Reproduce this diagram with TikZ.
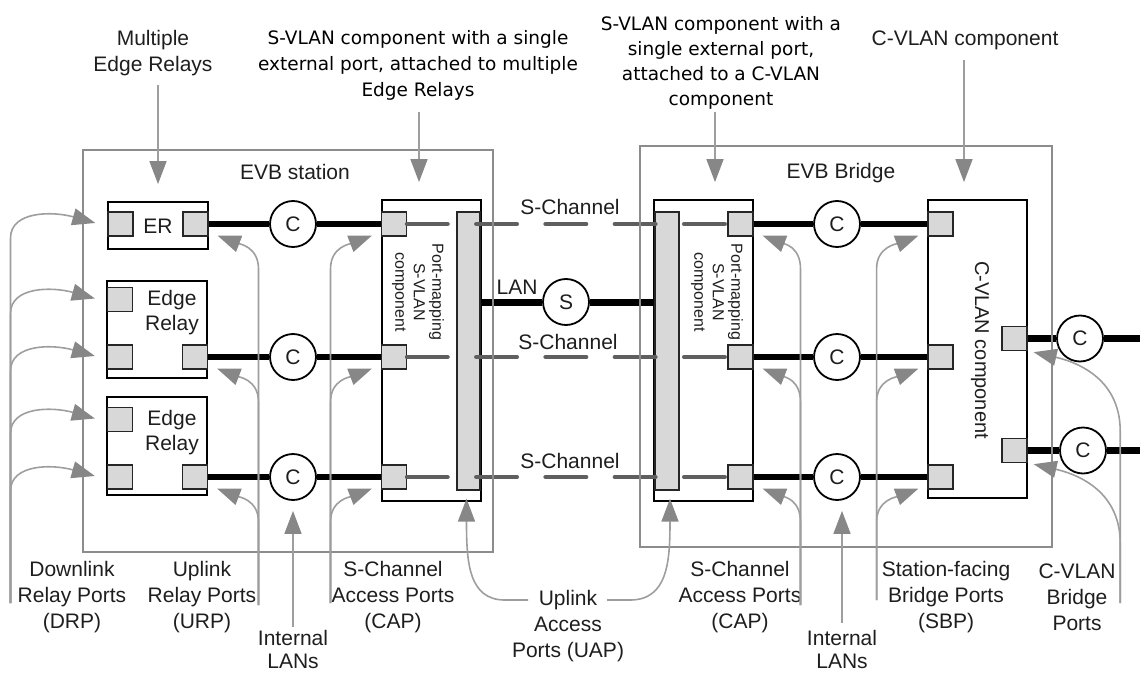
\documentclass[tikz,border=0pt]{standalone}
\usepackage{fontspec}
\setmainfont{Liberation Sans}
\newfontfamily\tahfont{DejaVu Sans}
\usetikzlibrary{arrows.meta,calc}
\definecolor{boxgray}{HTML}{8C8C8C}
\definecolor{anngray}{HTML}{9E9E9E}
\definecolor{headgray}{HTML}{878787}
\definecolor{portgray}{HTML}{D8D8D8}
\definecolor{chgray}{HTML}{5F5F5F}
\definecolor{txtc}{HTML}{1E1E1E}
\tikzset{
 lbl/.style={font=\fontsize{21}{26}\selectfont, align=center, inner sep=0pt, text=txtc},
 blbl/.style={font=\tahfont\fontsize{18.5}{26}\selectfont, align=center, inner sep=0pt, text=black},
 obox/.style={draw=boxgray, line width=1.5pt, rectangle, inner sep=0pt},
 ibox/.style={draw=black, line width=1.8pt, fill=white, rectangle, inner sep=0pt},
 port/.style={draw=black!85, line width=1.3pt, fill=portgray, rectangle, minimum width=25pt, minimum height=24pt, inner sep=0pt},
 vbar/.style={draw=black!85, line width=1.3pt, fill=portgray, rectangle, inner sep=0pt, minimum width=23pt, minimum height=278pt},
 cnode/.style={circle, draw=black, line width=1.8pt, fill=white, minimum size=46pt, inner sep=0pt, font=\fontsize{21}{26}\selectfont, text=txtc},
 link/.style={line width=6.5pt, draw=black},
 chan/.style={line width=4.5pt, draw=chgray, line cap=round, dash pattern=on 40.5pt off 28.8pt},
 ann/.style={draw=anngray, line width=1.6pt, -{Triangle[length=23pt,width=17pt,color=headgray]}},
}
% arrow to a port's lower right corner, coming up from a vertical line on the right
\newcommand\annL[2]{\draw[ann] (#1) -- ($(#1 |- #2.south)+(0,32)$) .. controls ($(#1 |- #2.south)+(0,10)$) and ($(#2.south east)+(30,7)$) .. ($(#2.south east)+(9,-1)$);}
% arrow to a port's lower left corner, coming up from a vertical line on the left
\newcommand\annR[2]{\draw[ann] (#1) -- ($(#1 |- #2.south)+(0,32)$) .. controls ($(#1 |- #2.south)+(0,10)$) and ($(#2.south west)+(-30,7)$) .. ($(#2.south west)+(-9,-1)$);}
% downlink relay port arrows
\newcommand\drparr[1]{\draw[ann] (drpS) -- ($(drpS |- #1)+(0,14)$) .. controls ($(drpS |- #1)+(0,-13)$) and ($(#1.west)+(-55,-13)$) .. ($(#1.west)+(-12,-1)$);}
% C-VLAN bridge port arrows
\newcommand\annC[2]{\draw[ann] (#1) -- ($(#1 |- #2.south)+(0,80)$) .. controls ($(#1 |- #2.south)+(0,25)$) and ($(#2.south east)+(45,10)$) .. ($(#2.south east)+(6,1)$);}
\begin{document}
\begin{tikzpicture}[x=1pt,y=-1pt]
\useasboundingbox (0,0) rectangle (1140,674);

% inner boxes
\node[ibox, minimum width=100pt, minimum height=47pt] (er1) at (158,225.5) {};
\node[ibox, minimum width=100pt, minimum height=97pt] (er2) at (157,329.5) {};
\node[ibox, minimum width=100pt, minimum height=98pt] (er3) at (157,446) {};
\node[ibox, minimum width=99pt, minimum height=301pt] (pml) at (431.5,350.5) {};
\node[ibox, minimum width=99pt, minimum height=301pt] (pmr) at (703.5,350.5) {};
\node[ibox, minimum width=99pt, minimum height=298pt] (cvc) at (977.5,349) {};

% bars
\node[vbar] (barl) at (468.5,351) {};
\node[vbar, minimum width=24pt] (barr) at (667,351) {};

% ports
\node[port] (e1l) at (120.5,224) {};
\node[port] (e1r) at (195.5,224) {};
\node[port] (e2t) at (120,299.5) {};
\node[port] (e2l) at (120,357) {};
\node[port] (e2r) at (195,357) {};
\node[port] (e3t) at (120,419.5) {};
\node[port] (e3l) at (120,477) {};
\node[port] (e3r) at (195,477) {};
\node[port] (pl1) at (394,224) {};
\node[port] (pl2) at (394,357) {};
\node[port] (pl3) at (394,477) {};
\node[port] (pr1) at (740.5,224) {};
\node[port] (pr2) at (740.5,357) {};
\node[port] (pr3) at (740.5,477) {};
\node[port] (cvp1) at (940.5,224) {};
\node[port] (cvp2) at (940.5,357) {};
\node[port] (cvp3) at (940.5,477) {};
\node[port] (cvq1) at (1014.5,338.5) {};
\node[port] (cvq2) at (1014.5,450.5) {};

% texts inside boxes
\node[lbl] (erlab) at (158,226) {ER};
\node[lbl, font=\fontsize{21}{25}\selectfont] (e2lab) at (172,313) {Edge\\Relay};
\node[lbl, font=\fontsize{21}{25}\selectfont] (e3lab) at (172,433) {Edge\\Relay};
\node[lbl, font=\fontsize{16}{18.5}\selectfont, rotate=-90] (pmlt) at (418,292) {Port-mapping\\S-VLAN\\component};
\node[lbl, font=\fontsize{16}{18.5}\selectfont, rotate=-90] (pmrt) at (717,292) {Port-mapping\\S-VLAN\\component};
\node[lbl, font=\fontsize{20}{24}\selectfont, rotate=-90] (cvt) at (980,350) {C-VLAN component};

% circles
\node[cnode] (cl1) at (293,224) {C};
\node[cnode] (cl2) at (293,357) {C};
\node[cnode] (cl3) at (293,477) {C};
\node[cnode] (cr1) at (837,224) {C};
\node[cnode] (cr2) at (837,357) {C};
\node[cnode] (cr3) at (837,477) {C};
\node[cnode] (cf1) at (1080,338.5) {C};
\node[cnode] (cf2) at (1083,450.5) {C};
\node[cnode] (cs) at (566,302) {S};
\coordinate (fe1) at (1140,338.5);
\coordinate (fe2) at (1140,450.5);

% thick links
\draw[link] (e1r.east) -- (cl1) -- (pl1.west);
\draw[link] (e2r.east) -- (cl2) -- (pl2.west);
\draw[link] (e3r.east) -- (cl3) -- (pl3.west);
\draw[link] (pr1.east) -- (cr1) -- (cvp1.west);
\draw[link] (pr2.east) -- (cr2) -- (cvp2.west);
\draw[link] (pr3.east) -- (cr3) -- (cvp3.west);
\draw[link] (cvq1.east) -- (cf1) -- (fe1);
\draw[link] (cvq2.east) -- (cf2) -- (fe2);
\draw[link, line width=7pt] (barl.east |- cs) -- (cs) -- (barr.west |- cs);

% S-channels
\draw[chan] ([xshift=13pt]pl1.center) -- ([xshift=-13pt]pr1.center);
\draw[chan] ([xshift=13pt]pl2.center) -- ([xshift=-13pt]pr2.center);
\draw[chan] ([xshift=13pt]pl3.center) -- ([xshift=-13pt]pr3.center);

% outer boxes
\node[obox, minimum width=410pt, minimum height=402pt] (stn) at (288,351) {};
\node[obox, minimum width=412pt, minimum height=401pt] (brg) at (846,346.5) {};

% labels
\node[lbl] (evbs) at (295,172) {EVB station};
\node[lbl] (evbb) at (841,173) {EVB Bridge};
\node[lbl] (lan) at (517,287) {LAN};
\node[lbl] (sc1) at (570,207) {S-Channel};
\node[lbl] (sc2) at (568,342) {S-Channel};
\node[lbl] (sc3) at (570,461) {S-Channel};
\node[lbl] (mer) at (153,53) {Multiple\\Edge Relays};
\node[blbl] (svl) at (418,65) {S-VLAN component with a single\\external port, attached to multiple\\Edge Relays};
\node[blbl, font=\tahfont\fontsize{18.5}{25}\selectfont] (svr) at (721,62.5) {S-VLAN component with a\\single external port,\\attached to a C-VLAN\\component};
\node[lbl] (cvl) at (965,40) {C-VLAN component};
\node[lbl] (drp) at (72,597) {Downlink\\Relay Ports\\(DRP)};
\node[lbl] (urp) at (202,597) {Uplink\\Relay Ports\\(URP)};
\node[lbl, font=\fontsize{21}{23}\selectfont] (ila) at (293,649) {Internal\\LANs};
\node[lbl] (capl) at (393,597) {S-Channel\\Access Ports\\(CAP)};
\node[lbl] (uap) at (568,626) {Uplink\\Access\\Ports (UAP)};
\node[lbl] (capr) at (740,597) {S-Channel\\Access Ports\\(CAP)};
\node[lbl, font=\fontsize{21}{23}\selectfont] (ilb) at (842,649) {Internal\\LANs};
\node[lbl] (sbp) at (946,597) {Station-facing\\Bridge Ports\\(SBP)};
\node[lbl] (cvbp) at (1077,597) {C-VLAN\\Bridge\\Ports};

% top arrows
\draw[ann] ($(er1.north |- mer.south)+(0,9)$) -- ($(er1.north)+(0,-17)$);
\draw[ann] ($(svl.south)+(1,12)$) -- ($(svl.south |- pml.north)+(1,-17)$);
\draw[ann] ($(svr.south)+(-6,3)$) -- ($(svr.south |- pmr.north)+(-6,-17)$);
\draw[ann] ($(cvl.south)+(-1,10)$) -- ($(cvl.south |- cvc.north)+(-1,-17)$);

% bottom annotation arrows
\coordinate (drpS) at ($(drp.west)+(-7,6)$);
\drparr{e1l}
\drparr{e2t}
\drparr{e2l}
\drparr{e3t}
\drparr{e3l}
\coordinate (urpS) at ($(urp.east)+(2,8)$);
\annL{urpS}{e1r}
\annL{urpS}{e2r}
\annL{urpS}{e3r}
\coordinate (caplS) at ($(capl.west)+(-1,6)$);
\annR{caplS}{pl1}
\annR{caplS}{pl2}
\annR{caplS}{pl3}
\coordinate (caprS) at ($(capr.east)+(-1,8)$);
\annL{caprS}{pr1}
\annL{caprS}{pr2}
\annL{caprS}{pr3}
\coordinate (sbpS) at ($(sbp.west)+(-5,3)$);
\annR{sbpS}{cvp1}
\annR{sbpS}{cvp2}
\annR{sbpS}{cvp3}
\coordinate (cvbS) at ($(cvbp.east)+(4.5,6)$);
\annC{cvbS}{cvq1}
\annC{cvbS}{cvq2}
\draw[ann] ($(ila.north)+(0,-3)$) -- ($(ila.north |- cl3.south)+(0,10)$);
\draw[ann] ($(ilb.north)+(0,-7)$) -- ($(ilb.north |- cr3.south)+(0,10)$);
\draw[ann] ($(uap.north)+(-40,10)$) -- ++(-23,0) .. controls +(-37,0) and +(0,62) .. ($(barl.south)+(-2,8)$);
\draw[ann] ($(uap.north)+(39,10)$) -- ++(23,0) .. controls +(38,0) and +(0,62) .. ($(barr.south)+(3,8)$);
\end{tikzpicture}
\end{document}
